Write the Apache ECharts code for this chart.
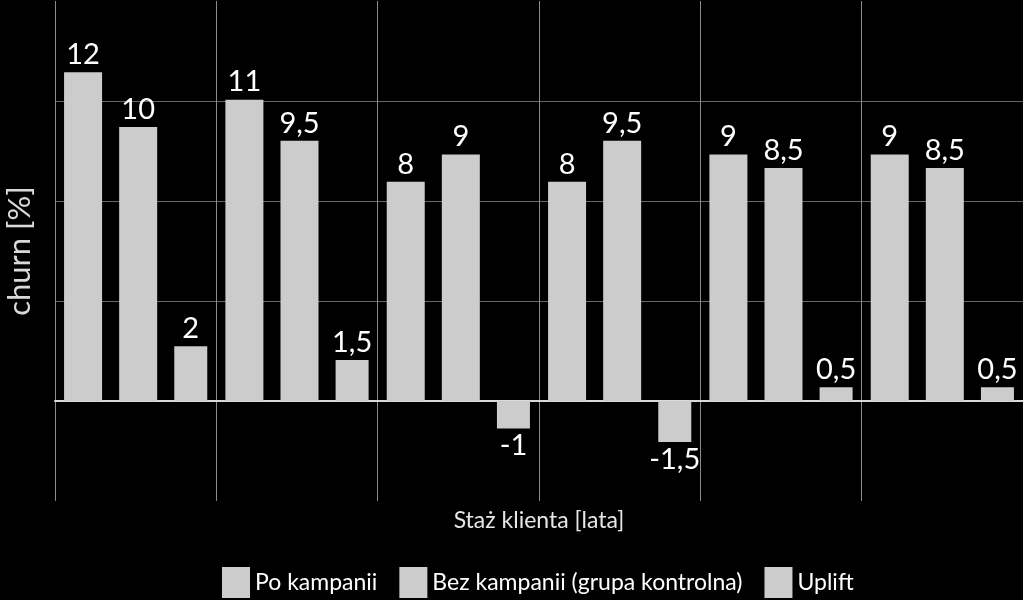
<!DOCTYPE html>
<html>
<head>
<meta charset="utf-8">
<script src="https://cdn.jsdelivr.net/npm/echarts@6/dist/echarts.min.js"></script>
<style>
html,body{margin:0;padding:0;background:#000;}
#chart{width:1023px;height:600px;}
</style>
</head>
<body>
<div id="chart"></div>
<script>
const categories = ['1', '2', '3', '4', '5', '6'];
const seriesNames = ['Po kampanii', 'Bez kampanii (grupa kontrolna)', 'Uplift'];
const poKampanii = [12, 11, 8, 8, 9, 9];
const bezKampanii = [10, 9.5, 9, 9.5, 8.5, 8.5];
const uplift = [2, 1.5, -1, -1.5, 0.5, 0.5];
const yAxisName = 'churn [%]';
const xAxisName = 'Staż klienta [lata]';

const FONT = 'Lato';
const BAR = '#cccccc';

function fmt(p) { return String(p.value).replace('.', ','); }
function items(arr) {
  return arr.map(v => v < 0 ? { value: v, label: { position: 'bottom' } } : { value: v });
}
function bar(name, arr, w) {
  return {
    name: name,
    type: 'bar',
    data: items(arr),
    barWidth: w,
    barGap: '45%',
    itemStyle: { color: BAR },
    label: {
      show: true, position: 'top', distance: 3,
      color: '#ffffff', fontSize: 29, fontFamily: FONT,
      formatter: fmt
    },
    emphasis: { disabled: true }
  };
}

const chart = echarts.init(document.getElementById('chart'), null, { renderer: 'canvas' });
chart.setOption({
  backgroundColor: '#000000',
  animation: false,
  textStyle: { fontFamily: FONT },
  grid: { left: 55, right: 0, top: 1, bottom: 99, containLabel: false, outerBoundsMode: 'none' },
  legend: {
    data: seriesNames,
    left: 222, top: 567, padding: 0,
    icon: 'rect', itemWidth: 28, itemHeight: 31, itemGap: 22,
    textStyle: { color: '#ffffff', fontSize: 23, fontFamily: FONT },
    selectedMode: false
  },
  xAxis: {
    type: 'category',
    data: categories,
    name: xAxisName,
    nameLocation: 'middle',
    nameGap: 8,
    nameTextStyle: { color: '#e6e6e6', fontSize: 23, fontFamily: FONT },
    axisLine: { show: true, onZero: true, lineStyle: { color: '#d9d9d9', width: 2 } },
    axisTick: { show: false },
    axisLabel: { show: false },
    splitLine: { show: true, lineStyle: { color: '#8a8a8a', width: 1 } }
  },
  yAxis: {
    type: 'value',
    min: -3.65, max: 14.6, interval: 3.65,
    name: yAxisName,
    nameLocation: 'middle',
    nameRotate: 90,
    nameGap: 20,
    nameTextStyle: { color: '#d9d9d9', fontSize: 31, fontFamily: FONT },
    axisLine: { show: false },
    axisTick: { show: false },
    axisLabel: { show: false },
    splitLine: { show: true, showMinLine: false, showMaxLine: false, lineStyle: { color: '#666666', width: 1 } }
  },
  series: [
    bar(seriesNames[0], poKampanii, 38),
    bar(seriesNames[1], bezKampanii, 38),
    bar(seriesNames[2], uplift, 33)
  ]
});
</script>
</body>
</html>
